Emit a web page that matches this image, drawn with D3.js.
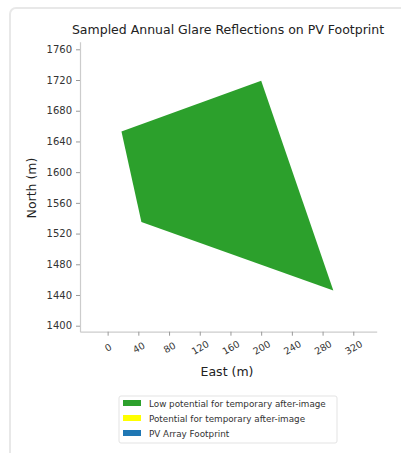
<!DOCTYPE html>
<html>
<head>
<meta charset="utf-8">
<script src="https://cdn.jsdelivr.net/npm/d3@7"></script>
<style>
  body { margin: 0; background: #fff; font-family: "DejaVu Sans", sans-serif; }
  #card { position: absolute; left: 9px; top: 7px; width: 420px; height: 470px;
          border: 2px solid #e8e8e8; border-radius: 7px; box-sizing: border-box; }
  svg { position: absolute; left: 0; top: 0; }
</style>
</head>
<body>
<div id="card"></div>
<div id="chart"></div>
<script>
// Data
const footprintEast  = [18, 200, 294, 44];
const footprintNorth = [1653, 1719, 1446, 1535];
const xTicks = [0, 40, 80, 120, 160, 200, 240, 280, 320];
const yTicks = [1400, 1440, 1480, 1520, 1560, 1600, 1640, 1680, 1720, 1760];
const legendLabels = ["Low potential for temporary after-image",
                      "Potential for temporary after-image",
                      "PV Array Footprint"];
const legendColors = ["#2ca02c", "#ffff00", "#1f77b4"];

const W = 401, H = 453;
const svg = d3.select("#chart").append("svg")
    .attr("width", W).attr("height", H);

// equal aspect scales
const x = d3.scaleLinear().domain([-36, 350.5]).range([80, 376.7]);
const y = d3.scaleLinear().domain([1392.2, 1769.9]).range([331.7, 41.7]);

// Footprint polygon
const pts = footprintEast.map((e, i) => [x(e), y(footprintNorth[i])]);
svg.append("polygon")
    .attr("points", pts.map(p => p.join(",")).join(" "))
    .attr("fill", "#2ca02c");

// Axes
const axisColor = "#cccccc";
const gx = svg.append("g")
    .attr("transform", `translate(0,${y.range()[0]})`)
    .call(d3.axisBottom(x).tickValues(xTicks).tickFormat(d3.format("d"))
        .tickSize(4).tickPadding(3).tickSizeOuter(0));
gx.select(".domain").attr("stroke", axisColor).attr("stroke-width", 1.2);
gx.selectAll(".tick line").attr("stroke", "#999");
gx.selectAll(".tick text")
    .attr("fill", "#333")
    .style("font-size", "9.5px")
    .attr("text-anchor", "middle")
    .attr("dy", "0.35em")
    .attr("y", 0)
    .attr("transform", "translate(0,16) rotate(-30)");

const gy = svg.append("g")
    .attr("transform", `translate(${x.range()[0]},0)`)
    .call(d3.axisLeft(y).tickValues(yTicks).tickFormat(d3.format("d"))
        .tickSize(4).tickPadding(4).tickSizeOuter(0));
gy.select(".domain").attr("stroke", axisColor).attr("stroke-width", 1.2);
gy.selectAll(".tick line").attr("stroke", "#999");
gy.selectAll(".tick text").attr("fill", "#333").style("font-size", "10px");
svg.selectAll(".tick text").style("font-family", "DejaVu Sans, sans-serif");

// Title and labels
svg.append("text")
    .attr("x", 228).attr("y", 34)
    .attr("text-anchor", "middle")
    .style("font-size", "12.5px").attr("fill", "#222")
    .text("Sampled Annual Glare Reflections on PV Footprint");

svg.append("text")
    .attr("x", 227).attr("y", 376)
    .attr("text-anchor", "middle")
    .style("font-size", "12.5px").attr("fill", "#222")
    .text("East (m)");

svg.append("text")
    .attr("transform", "translate(36,188) rotate(-90)")
    .attr("text-anchor", "middle")
    .style("font-size", "12.5px").attr("fill", "#222")
    .text("North (m)");

// Legend
const legend = svg.append("g").attr("transform", "translate(119,396)");
legend.append("rect")
    .attr("width", 218).attr("height", 47)
    .attr("rx", 2)
    .attr("fill", "#fff").attr("stroke", "#e3e3e3");
const items = legend.selectAll(".item")
    .data(legendLabels)
    .enter().append("g")
    .attr("transform", (d, i) => `translate(4,${4 + i * 15})`);
items.append("rect")
    .attr("width", 18).attr("height", 6)
    .attr("fill", (d, i) => legendColors[i]);
items.append("text")
    .attr("x", 26).attr("y", 6.5)
    .style("font-size", "8.8px").attr("fill", "#333")
    .text(d => d);
</script>
</body>
</html>
